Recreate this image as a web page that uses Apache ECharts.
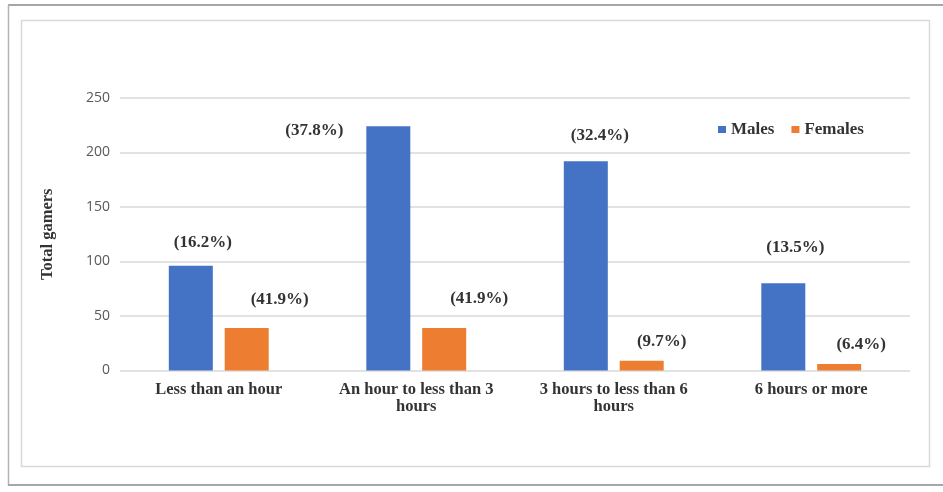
<!DOCTYPE html>
<html>
<head>
<meta charset="utf-8">
<script src="https://cdn.jsdelivr.net/npm/echarts@6/dist/echarts.min.js"></script>
<style>
  html, body { margin: 0; padding: 0; background: #fff; }
  #chart { width: 943px; height: 492px; }
</style>
</head>
<body>
<div id="chart"></div>
<script>
// Weekly gaming time by gender
const categories = [
  'Less than an hour',
  'An hour to less than 3\nhours',
  '3 hours to less than 6\nhours',
  '6 hours or more'
];
const males = [96, 224, 192, 80];
const females = [39, 39, 9, 6];
// Share of each gender's total, in percent
const maleShares = [16.2, 37.8, 32.4, 13.5];
const femaleShares = [41.9, 41.9, 9.7, 6.4];
const yTicks = [0, 50, 100, 150, 200, 250];

const serif = '"Liberation Serif", "Times New Roman", serif';
const ink = '#333333';

// Where each share label sits, measured from its bar's top-left corner
const maleLabelAt = [[34, -23], [-52, 4], [36, -26], [34, -36]];
const femaleLabelAt = [[55, -28], [57, -29], [42, -19], [44, -19]];

function buildData(values, sharesPct, places) {
  return values.map((v, i) => ({
    value: v,
    label: { formatter: '(' + sharesPct[i].toFixed(1) + '%)', position: places[i] }
  }));
}

const shareLabel = {
  show: true,
  align: 'center',
  verticalAlign: 'middle',
  fontFamily: serif,
  fontSize: 17,
  fontWeight: 'bold',
  color: ink
};

const chart = echarts.init(document.getElementById('chart'));
chart.setOption({
  animation: false,
  backgroundColor: '#fff',
  graphic: [
    // outer frame
    { type: 'line', shape: { x1: 8, y1: 5, x2: 943, y2: 5 }, style: { stroke: '#a6a6a6', lineWidth: 2 } },
    { type: 'line', shape: { x1: 8.5, y1: 5, x2: 8.5, y2: 486 }, style: { stroke: '#b3b3b3', lineWidth: 1.5 } },
    { type: 'line', shape: { x1: 8, y1: 485, x2: 943, y2: 485 }, style: { stroke: '#a6a6a6', lineWidth: 2 } },
    // chart area border
    { type: 'rect', shape: { x: 21.5, y: 20.5, width: 908, height: 446 }, style: { fill: 'none', stroke: '#d9d9d9', lineWidth: 1.5 } }
  ],
  grid: { left: 120, right: 33, top: 98, bottom: 121.5 },
  legend: {
    data: ['Males', 'Females'],
    left: 713,
    top: 116,
    icon: 'rect',
    itemWidth: 8,
    itemHeight: 7,
    itemGap: 17,
    textStyle: { fontFamily: serif, fontSize: 17, color: ink, fontWeight: 'bold' }
  },
  xAxis: {
    type: 'category',
    data: categories,
    axisLine: { show: false },
    axisTick: { show: false },
    axisLabel: {
      interval: 0,
      fontFamily: serif,
      fontSize: 16.5,
      fontWeight: 'bold',
      color: ink,
      margin: 11,
      lineHeight: 17
    }
  },
  yAxis: {
    type: 'value',
    min: yTicks[0],
    max: yTicks[yTicks.length - 1],
    interval: yTicks[1] - yTicks[0],
    name: 'Total gamers',
    nameLocation: 'middle',
    nameGap: 64,
    nameTextStyle: { fontFamily: serif, fontSize: 16.5, fontWeight: 'bold', color: ink },
    axisLine: { show: false },
    axisTick: { show: false },
    axisLabel: { fontFamily: '"Open Sans", "Noto Sans", sans-serif', fontSize: 14, color: '#595959', margin: 10 },
    splitLine: { lineStyle: { color: '#d9d9d9', width: 1.5 } }
  },
  series: [
    {
      name: 'Males',
      type: 'bar',
      data: buildData(males, maleShares, maleLabelAt),
      itemStyle: { color: '#4472C4' },
      barWidth: 44,
      barGap: '27%',
      label: shareLabel
    },
    {
      name: 'Females',
      type: 'bar',
      data: buildData(females, femaleShares, femaleLabelAt),
      itemStyle: { color: '#ED7D31' },
      barWidth: 44,
      label: shareLabel
    }
  ]
});
</script>
</body>
</html>
